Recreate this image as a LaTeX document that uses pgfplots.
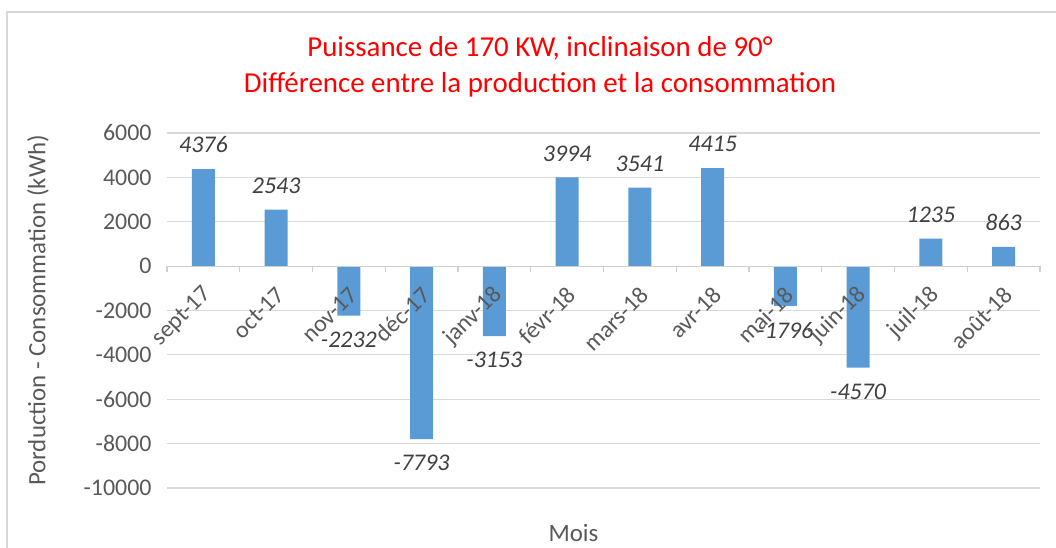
\documentclass[border=0pt]{standalone}
\usepackage{fontspec}
\setmainfont{Carlito}
\usepackage{pgfplots}
\pgfplotsset{compat=1.18}
\definecolor{barc}{HTML}{5B9BD5}
\definecolor{gridc}{HTML}{D9D9D9}
\definecolor{zeroc}{HTML}{D0D0D0}
\definecolor{tickc}{HTML}{595959}
\definecolor{labc}{HTML}{404040}
\definecolor{framec}{HTML}{D9D9D9}
\pgfplotsset{
  common/.style={
    at={(167bp,60bp)}, anchor=south west,
    scale only axis, width=873bp, height=355bp,
    xmin=-0.5, xmax=11.5, ymin=-10000, ymax=6000,
    /pgf/number format/assume math mode=true,
    /pgf/number format/1000 sep={},
  }
}
\begin{document}
\begin{tikzpicture}[x=1bp,y=1bp]
\path[use as bounding box] (0,0) rectangle (1056,548);
\draw[framec, line width=1.5bp] (7,0) -- (7,536) -- (1056,536);
\node[text=red, font=\fontsize{29}{34}\selectfont, inner sep=0pt] at (540,500) {Puissance de 170 KW, inclinaison de 90°};
\node[text=red, font=\fontsize{29}{34}\selectfont, inner sep=0pt] at (540,463) {Différence entre la production et la consommation};
\begin{axis}[
  common,
  ytick={-10000,-8000,...,6000},
  scaled y ticks=false,
  ymajorgrids, grid style={gridc, line width=1.2bp},
  axis x line=none, axis y line*=left,
  y axis line style={draw=none},
  major tick length=0pt,
  yticklabel style={font=\fontsize{24}{28}\selectfont, text=tickc, xshift=-12bp},
  ylabel={Porduction - Consommation (kWh)},
  every axis y label/.style={at={(rel axis cs:0,0.5)}, xshift=-129bp, rotate=90, anchor=center, font=\fontsize{25}{30}\selectfont, text=tickc},
  nodes near coords, nodes near coords align={vertical},
  every node near coord/.append style={font=\fontsize{24}{28}\selectfont\itshape, text=labc, inner ysep=16bp},
]
\addplot[ybar, bar width=23bp, fill=barc, draw=none] coordinates {
(0,4376) (1,2543) (2,-2232) (3,-7793) (4,-3153) (5,3994) (6,3541) (7,4415) (8,-1796) (9,-4570) (10,1235) (11,863)};
\end{axis}
\begin{axis}[
  common,
  axis x line*=middle, axis y line=none,
  x axis line style={zeroc, line width=1.2bp},
  xtick={0,...,11},
  xticklabels={sept-17,oct-17,nov-17,déc-17,janv-18,févr-18,mars-18,avr-18,mai-18,juin-18,juil-18,août-18},
  major tick length=0pt,
  minor xtick={-0.5,0.5,...,11.5},
  minor tick length=6bp, tick align=outside,
  minor x tick style={zeroc, line width=1.2bp},
  xticklabel style={font=\fontsize{24}{28}\selectfont, text=tickc, xshift=6.8bp, yshift=-22.5bp, rotate=45, anchor=east},
  xlabel={Mois},
  every axis x label/.style={at={(rel axis cs:0.5,0)}, xshift=-30bp, yshift=-45bp, anchor=center, font=\fontsize{25}{30}\selectfont, text=tickc},
]
\addplot[draw=none] coordinates {(0,0)};
\end{axis}
\end{tikzpicture}
\end{document}
